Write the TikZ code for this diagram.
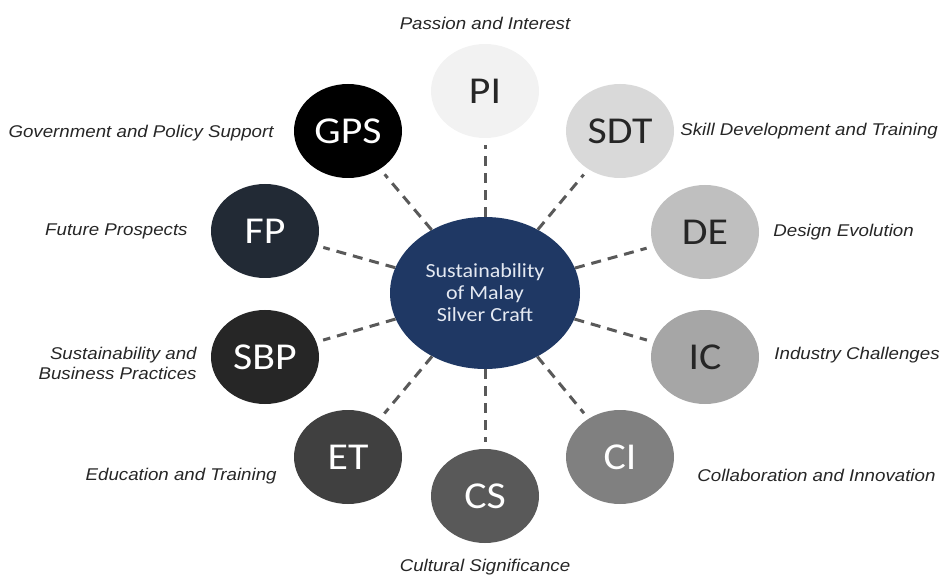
\documentclass[tikz,border=0pt]{standalone}
\usepackage{fontspec}
\setmainfont{Liberation Sans}[FakeStretch=1.1]
\newfontfamily\calibri{Carlito}[FakeStretch=1.1]
\usepackage{tikz}
\usetikzlibrary{shapes.geometric, positioning}
\definecolor{HubBlue}{HTML}{1F3864}
\definecolor{HubText}{HTML}{E4E9F2}
\definecolor{LinkGray}{HTML}{595959}
\definecolor{FPNavy}{HTML}{222A35}

\begin{document}
\begin{tikzpicture}[
  x=1pt, y=-1pt,
  hub/.style={ellipse, fill=HubBlue, text=HubText, minimum width=190pt, minimum height=152pt, inner sep=0pt, align=center, font=\calibri\fontsize{20}{22}\selectfont},
  theme/.style={ellipse, minimum width=108pt, minimum height=94pt, inner sep=0pt, font=\calibri\fontsize{38}{40}\selectfont},
  note/.style={inner sep=0pt, text=black!85, font=\itshape\fontsize{17}{20}\selectfont},
  link/.style={draw=LinkGray, line width=3pt, dash pattern=on 10pt off 7pt, shorten >=7pt}
]
\useasboundingbox (0,0) rectangle (940,577);
\node[hub] (hub) at (485,293) {Sustainability\\of Malay\\Silver Craft};

\node[theme, fill=black!5, text=black!85] (PI) at (485,91) {PI};
\node[theme, fill=black!15, text=black!85] (SDT) at (620,131) {SDT};
\node[theme, fill=black!25, text=black!85] (DE) at (705,232) {DE};
\node[theme, fill=black!35, text=black!85] (IC) at (705,357) {IC};
\node[theme, fill=black!50, text=white] (CI) at (620,457) {CI};
\node[theme, fill=black!65, text=white] (CS) at (485,496) {CS};
\node[theme, fill=black!75, text=white] (ET) at (348,457) {ET};
\node[theme, fill=black!85, text=white] (SBP) at (265,357) {SBP};
\node[theme, fill=FPNavy, text=white] (FP) at (265,231) {FP};
\node[theme, fill=black, text=white] (GPS) at (348,131) {GPS};

\node[note, above=14pt of PI] (PIlbl) {Passion and Interest};
\node[note, right=6pt of SDT] (SDTlbl) {Skill Development and Training};
\node[note, right=14pt of DE] (DElbl) {Design Evolution};
\node[note, right=15pt of IC, yshift=2pt] (IClbl) {Industry Challenges};
\node[note, right=23pt of CI, yshift=-18pt] (CIlbl) {Collaboration and Innovation};
\node[note, below=16pt of CS] (CSlbl) {Cultural Significance};
\node[note, left=17pt of ET, yshift=-19pt] (ETlbl) {Education and Training};
\node[note, left=14pt of SBP, yshift=-6pt, align=right] (SBPlbl) {Sustainability and\\Business Practices};
\node[note, left=23pt of FP] (FPlbl) {Future Prospects};
\node[note, left=20pt of GPS, yshift=-2pt] (GPSlbl) {Government and Policy Support};

\draw[link] (hub) -- (PI);
\draw[link] (hub) -- (SDT);
\draw[link] (hub) -- (DE);
\draw[link] (hub) -- (IC);
\draw[link] (hub) -- (CI);
\draw[link] (hub) -- (CS);
\draw[link] (hub) -- (ET);
\draw[link] (hub) -- (SBP);
\draw[link] (hub) -- (FP);
\draw[link] (hub) -- (GPS);
\end{tikzpicture}
\end{document}
